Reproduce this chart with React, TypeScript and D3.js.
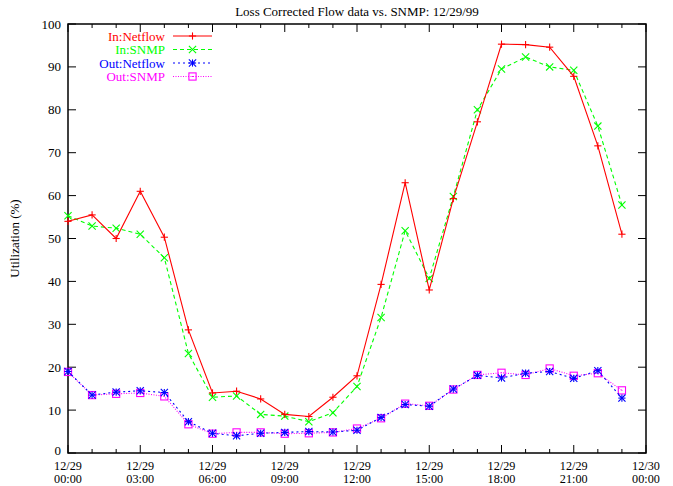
import React, { useRef, useEffect } from 'react';
import * as d3 from 'd3';

// hourly samples, 12/29 00:00 .. 23:00
const hours = d3.range(0, 24);
const inNetflow = [54, 55.5, 50, 61, 50.3, 28.7, 14, 14.4, 12.6, 9, 8.5, 13, 18, 39.3, 63, 38, 59.3, 77.2, 95.3, 95.2, 94.6, 87.8, 71.6, 51];
const inSnmp = [55.3, 52.9, 52.4, 51, 45.5, 23.2, 13, 13.3, 9, 8.6, 7.3, 9.4, 15.5, 31.6, 51.8, 40.7, 59.8, 80, 89.5, 92.3, 90, 89.2, 76.2, 57.8];
const outNetflow = [19, 13.5, 14.2, 14.5, 14.1, 7.3, 4.6, 4.0, 4.6, 4.8, 5.0, 4.9, 5.3, 8.3, 11.3, 10.9, 14.9, 18.1, 17.5, 18.6, 19.0, 17.4, 19.2, 12.8];
const outSnmp = [18.9, 13.5, 13.8, 14.0, 13.2, 6.7, 4.5, 4.8, 4.8, 4.5, 4.6, 4.8, 5.7, 8.1, 11.5, 11.0, 14.8, 18.2, 18.7, 18.2, 19.7, 18, 18.6, 14.6];
const xTickLabels = [['12/29', '00:00'], ['12/29', '03:00'], ['12/29', '06:00'], ['12/29', '09:00'], ['12/29', '12:00'], ['12/29', '15:00'], ['12/29', '18:00'], ['12/29', '21:00'], ['12/30', '00:00']];
const yTicks = d3.range(0, 101, 10);

const series = [
  { name: 'In:Netflow', values: inNetflow, color: '#ff0000', dash: null, marker: 'plus' },
  { name: 'In:SNMP', values: inSnmp, color: '#00ff00', dash: '4,3', marker: 'cross' },
  { name: 'Out:Netflow', values: outNetflow, color: '#0000ff', dash: '2,3', marker: 'star' },
  { name: 'Out:SNMP', values: outSnmp, color: '#ff00ff', dash: '1,1.5', marker: 'box' },
];

const W = 673, H = 486;
const margin = { top: 24, right: 27, bottom: 33, left: 68 };

function drawMarker(g: d3.Selection<SVGGElement, unknown, null, undefined>, kind: string, x: number, y: number, color: string) {
  const s = 3.6;
  const m = g.append('g').attr('stroke', color).attr('stroke-width', 1.1).attr('fill', 'none');
  if (kind === 'plus' || kind === 'star') {
    m.append('line').attr('x1', x - s).attr('x2', x + s).attr('y1', y).attr('y2', y);
    m.append('line').attr('x1', x).attr('x2', x).attr('y1', y - s).attr('y2', y + s);
  }
  if (kind === 'cross' || kind === 'star') {
    m.append('line').attr('x1', x - s).attr('x2', x + s).attr('y1', y - s).attr('y2', y + s);
    m.append('line').attr('x1', x - s).attr('x2', x + s).attr('y1', y + s).attr('y2', y - s);
  }
  if (kind === 'box') {
    m.append('rect').attr('x', x - s).attr('y', y - s).attr('width', 2 * s).attr('height', 2 * s);
    m.append('rect').attr('x', x - 0.5).attr('y', y - 0.5).attr('width', 1).attr('height', 1).attr('fill', color).attr('stroke', 'none');
  }
}

const App: React.FC = () => {
  const ref = useRef<SVGSVGElement | null>(null);

  useEffect(() => {
    if (!ref.current) return;
    const svg = d3.select(ref.current);
    svg.selectAll('*').remove();

    const x = d3.scaleLinear().domain([0, 24]).range([margin.left, W - margin.right]);
    const y = d3.scaleLinear().domain([0, 100]).range([H - margin.bottom, margin.top]);
    const font = '"Liberation Serif", "Times New Roman", serif';

    svg.append('rect').attr('width', W).attr('height', H).attr('fill', '#fff');

    // title
    svg.append('text')
      .attr('x', (margin.left + W - margin.right) / 2).attr('y', 16)
      .attr('text-anchor', 'middle').style('font-family', font).style('font-size', '13px')
      .text('Loss Corrected Flow data vs. SNMP: 12/29/99');

    // y label
    svg.append('text')
      .attr('transform', `translate(19,${(margin.top + H - margin.bottom) / 2}) rotate(-90)`)
      .attr('text-anchor', 'middle').style('font-family', font).style('font-size', '13px')
      .text('Utilization (%)');

    const axes = svg.append('g').attr('stroke', '#000').attr('stroke-width', 1);
    const x0 = margin.left, x1 = W - margin.right, y0 = H - margin.bottom, y1 = margin.top;

    yTicks.forEach(t => {
      axes.append('line').attr('x1', x0).attr('x2', x0 + 8).attr('y1', y(t)).attr('y2', y(t));
      axes.append('line').attr('x1', x1).attr('x2', x1 - 8).attr('y1', y(t)).attr('y2', y(t));
      svg.append('text').attr('x', x0 - 7).attr('y', y(t) + (t === 0 ? 2 : 4.5)).attr('text-anchor', 'end')
        .style('font-family', font).style('font-size', '13px').text(t);
    });

    d3.range(0, 25).forEach(h => {
      const len = h % 3 === 0 ? 8 : 4;
      axes.append('line').attr('x1', x(h)).attr('x2', x(h)).attr('y1', y0).attr('y2', y0 - len);
      axes.append('line').attr('x1', x(h)).attr('x2', x(h)).attr('y1', y1).attr('y2', y1 + len);
    });

    xTickLabels.forEach((lab, i) => {
      svg.append('text').attr('text-anchor', 'middle').attr('x', x(i * 3)).attr('y', y0 + 16.5)
        .style('font-family', font).style('font-size', '12.2px').text(lab[0]);
      svg.append('text').attr('text-anchor', 'middle').attr('x', x(i * 3)).attr('y', y0 + 30)
        .style('font-family', font).style('font-size', '12.2px').text(lab[1]);
    });

    svg.append('rect').attr('x', x0).attr('y', y1).attr('width', x1 - x0).attr('height', y0 - y1)
      .attr('fill', 'none').attr('stroke', '#000').attr('stroke-width', 1.5);

    const line = d3.line<number>().x((_, i) => x(hours[i])).y(d => y(d));

    // draw in reverse so red sits on top
    [...series].reverse().forEach(s => {
      const g = svg.append('g');
      g.append('path').datum(s.values).attr('d', line).attr('fill', 'none')
        .attr('stroke', s.color).attr('stroke-width', 1.1)
        .attr('stroke-dasharray', s.dash);
      s.values.forEach((v, i) => drawMarker(g, s.marker, x(hours[i]), y(v), s.color));
    });

    // legend
    series.forEach((s, i) => {
      const ly = 36 + i * 13.5;
      svg.append('text').attr('x', 165).attr('y', ly + 4.5).attr('text-anchor', 'end')
        .attr('fill', s.color).style('font-family', font).style('font-size', '13px').text(s.name);
      const g = svg.append('g');
      g.append('line').attr('x1', 173).attr('x2', 212).attr('y1', ly).attr('y2', ly)
        .attr('stroke', s.color).attr('stroke-width', 1.1).attr('stroke-dasharray', s.dash);
      drawMarker(g, s.marker, 192.5, ly, s.color);
    });
  }, []);

  return <svg ref={ref} width={W} height={H} style={{ display: 'block', position: 'absolute', left: 0, top: 0 }} />;
};

export default App;
